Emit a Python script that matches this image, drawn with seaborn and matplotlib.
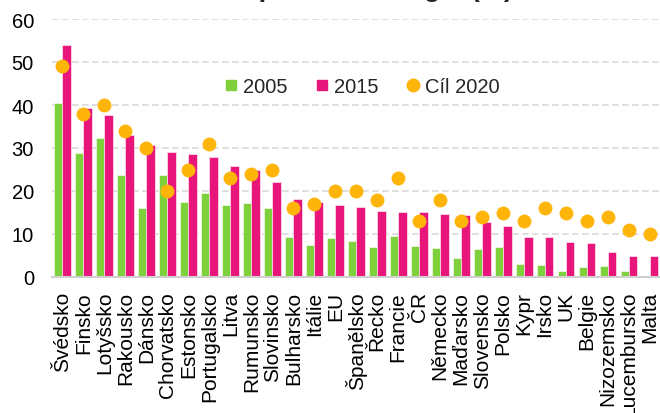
import matplotlib
matplotlib.use("Agg")
import matplotlib.pyplot as plt
import seaborn as sns
import pandas as pd
from matplotlib.lines import Line2D

countries = ["Švédsko", "Finsko", "Lotyšsko", "Rakousko", "Dánsko", "Chorvatsko",
             "Estonsko", "Portugalsko", "Litva", "Rumunsko", "Slovinsko", "Bulharsko",
             "Itálie", "EU", "Španělsko", "Řecko", "Francie", "ČR", "Německo",
             "Maďarsko", "Slovensko", "Polsko", "Kypr", "Irsko", "UK", "Belgie",
             "Nizozemsko", "Lucembursko", "Malta"]
v2005 = [40.5, 28.8, 32.3, 23.7, 16.0, 23.7, 17.5, 19.5, 16.8, 17.3, 16.0, 9.4,
         7.5, 9.0, 8.4, 7.0, 9.5, 7.1, 6.7, 4.5, 6.4, 6.9, 3.1, 2.8, 1.3, 2.3,
         2.5, 1.4, 0.1]
v2015 = [53.9, 39.3, 37.6, 33.0, 30.8, 29.0, 28.6, 28.0, 25.8, 24.8, 22.0, 18.2,
         17.5, 16.7, 16.2, 15.4, 15.2, 15.1, 14.6, 14.5, 12.9, 11.8, 9.4, 9.2,
         8.2, 7.9, 5.8, 5.0, 5.0]
target2020 = [49, 38, 40, 34, 30, 20, 25, 31, 23, 24, 25, 16, 17, 20, 20, 18, 23,
              13, 18, 13, 14, 15, 13, 16, 15, 13, 14, 11, 10]
yticks = [0, 10, 20, 30, 40, 50, 60]

series_labels = ["2005", "2015", "Cíl 2020"]
title_text = "na spotřebě energie (%)"
c_green = "#7FD13B"
c_pink = "#E8157A"
c_orange = "#FFB40A"

sns.set_theme(style="white")
plt.rcParams["font.family"] = ["Liberation Sans", "DejaVu Sans"]

df = pd.DataFrame({
    "country": countries * 2,
    "value": v2005 + v2015,
    "year": [series_labels[0]] * len(countries) + [series_labels[1]] * len(countries),
})
df_t = pd.DataFrame({"country": countries, "target": target2020})

fig = plt.figure(figsize=(6.6, 4.14), dpi=100)
ax = fig.add_axes([52 / 660, (414 - 278) / 414, 608.5 / 660, 258 / 414])

sns.barplot(data=df, x="country", y="value", hue="year", order=countries,
            palette=[c_green, c_pink], saturation=1, width=0.8, edgecolor="white",
            linewidth=0.4, ax=ax, legend=False, zorder=2)
sns.stripplot(data=df_t, x="country", y="target", order=countries, jitter=False,
              color=c_orange, size=10, linewidth=0, ax=ax, zorder=3)

ax.set_xlim(-0.5, len(countries) - 0.5)
ax.set_ylim(0, 60)
ax.set_yticks(yticks)
ax.set_xlabel("")
ax.set_ylabel("")
ax.yaxis.grid(True, color="#D9D9D9", linestyle=(0, (4, 2)), linewidth=1.2, zorder=0)
ax.set_axisbelow(True)
for s in ["top", "right", "left"]:
    ax.spines[s].set_visible(False)
ax.spines["bottom"].set_color("#D0D0D0")
ax.spines["bottom"].set_linewidth(1.5)
ax.tick_params(axis="both", length=0, labelsize=14.5, colors="black")
ax.tick_params(axis="y", pad=13)
ax.tick_params(axis="x", pad=10, labelsize=15)
plt.setp(ax.get_xticklabels(), rotation=90, ha="center", va="top")

handles = [
    Line2D([], [], marker="s", linestyle="none", color=c_green, markersize=7),
    Line2D([], [], marker="s", linestyle="none", color=c_pink, markersize=7),
    Line2D([], [], marker="o", linestyle="none", color=c_orange, markersize=9),
]
ax.legend(handles, series_labels, loc="center", bbox_to_anchor=(0.51, 0.74),
          ncol=3, frameon=False, fontsize=14.5, handlelength=0.6,
          handletextpad=0.3, columnspacing=1.4, borderpad=0)

cx = 358 / 660
fig.text(cx, 1.0 + 3.5 / 414, title_text, ha="center", va="baseline",
         fontsize=19.6, weight="bold")

fig.savefig("out.png", dpi=100)
